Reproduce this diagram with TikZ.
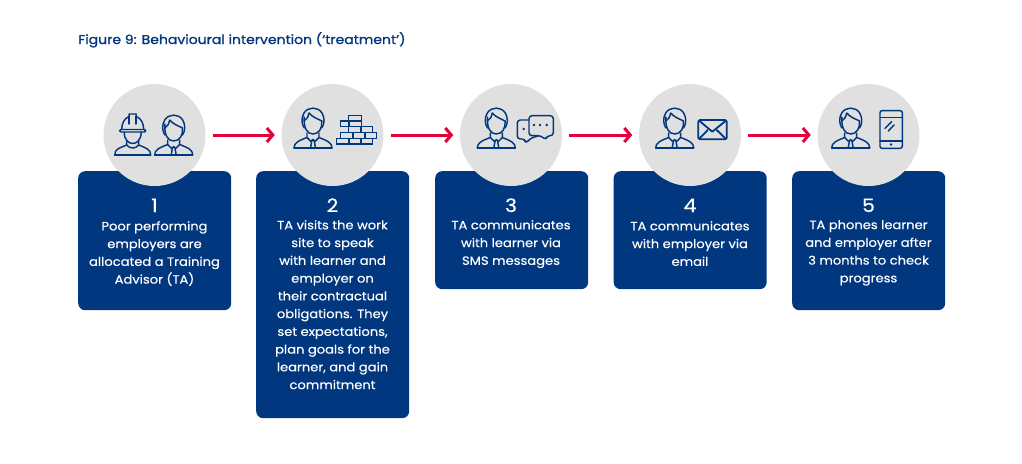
\documentclass[tikz,border=0pt]{standalone}
\usepackage{fontspec}
\setmainfont{Poppins}
\newfontfamily\bodyfont{Poppins}[FakeStretch=1.09,FakeBold=0.4]
\newfontfamily\titlefont{Poppins}[FakeStretch=1.1,FakeBold=1.2]
\usetikzlibrary{arrows.meta}
\definecolor{navy}{HTML}{00377F}
\definecolor{disc}{HTML}{E0E0E0}
\definecolor{arrowred}{HTML}{E4003A}
\tikzset{
  x=1pt,y=-1pt,
  card/.style={fill=navy,rounded corners=7pt,minimum width=153pt,anchor=north west,inner sep=0pt,text width=153pt},
  disc/.style={circle,fill=disc,minimum size=102pt,inner sep=0pt},
  flow/.style={draw=arrowred,line width=3pt,shorten <=7pt,shorten >=6.5pt,-{Straight Barb[length=6pt,width=14pt,line width=3pt]}},
  numeral/.style={text=white,font=\bodyfont\fontsize{18.5}{20}\selectfont,anchor=base},
  body/.style={text=white,font=\bodyfont\fontsize{12}{17.75}\selectfont,align=center,anchor=north,inner sep=0pt},
  ink/.style={draw=navy,line width=1.45pt,line join=round,line cap=round,fill=none},
  person/.pic={
    \draw[ink] (-19,0)--(19,0);
    \draw[ink] (-19,0) .. controls (-19,-5) and (-15,-7) .. (-6,-10.5) -- (-6,-15);
    \draw[ink] (19,0) .. controls (19,-5) and (15,-7) .. (6,-10.5) -- (6,-15);
    \draw[ink] (-8.8,-20) .. controls (-11.5,-24) and (-12,-30) .. (-9,-35) .. controls (-5,-41.5) and (5,-41.5) .. (9,-35) .. controls (12,-30) and (11.5,-24) .. (8.8,-20);
    \draw[ink] (-8.8,-31) .. controls (-9.5,-20) and (-6,-14) .. (0,-14) .. controls (6,-14) and (9.5,-20) .. (8.8,-27);
    \draw[ink] (-8.8,-27) .. controls (-6,-29) and (-4,-32) .. (-4,-35) .. controls (-1,-31) and (5,-29) .. (8.8,-27);
    \draw[ink] (-6,-10.5)--(-2,-6.5)--(0,-8.5)--(2,-6.5)--(6,-10.5);
    \draw[ink] (-1.2,-7.5)--(-2.5,0) (1.2,-7.5)--(2.5,0);
  },
  worker/.pic={
    \draw[ink] (-18,0)--(18,0);
    \draw[ink] (-18,0) .. controls (-18,-6) and (-13,-7) .. (-6,-10) -- (-6,-14);
    \draw[ink] (18,0) .. controls (18,-6) and (13,-7) .. (6,-10) -- (6,-14);
    \draw[ink] (-6,-10) .. controls (-3,-6) and (3,-6) .. (6,-10);
    \draw[ink] (-8.5,-23) .. controls (-8.5,-15) and (-4,-11.5) .. (0,-11.5) .. controls (4,-11.5) and (8.5,-15) .. (8.5,-23);
    \draw[ink,rounded corners=1.2pt] (-13,-23)--(13,-23)--(13,-25.5)--(-13,-25.5)--cycle;
    \draw[ink] (-11,-25.5) .. controls (-11,-32) and (-8,-37) .. (-3.5,-38.5) -- (-3.5,-41) -- (3.5,-41) -- (3.5,-38.5) .. controls (8,-37) and (11,-32) .. (11,-25.5);
    \draw[ink] (-3.5,-38.5)--(-3.5,-31) (3.5,-38.5)--(3.5,-31);
  },
}
\begin{document}
\begin{tikzpicture}
\useasboundingbox (0,0) rectangle (1022,463);
\node[text=navy,font=\titlefont\fontsize{12.75}{14}\selectfont,anchor=base west,inner sep=0pt] (title) at (78,44) {Figure 9: Behavioural intervention (‘treatment’)};

\node[card,minimum height=139pt] (b1) at (78,171) {};
\node[card,minimum height=247pt] (b2) at (256,171) {};
\node[card,minimum height=118pt] (b3) at (435,171) {};
\node[card,minimum height=118pt] (b4) at (613.5,171) {};
\node[card,minimum height=139pt] (b5) at (792,171) {};

\node[disc] (c1) at (154.5,135) {};
\node[disc] (c2) at (332.5,135) {};
\node[disc] (c3) at (511,135) {};
\node[disc] (c4) at (690,135) {};
\node[disc] (c5) at (868.5,135) {};

\draw[flow] (c1)--(c2);
\draw[flow] (c2)--(c3);
\draw[flow] (c3)--(c4);
\draw[flow] (c4)--(c5);

\node[numeral] (n1) at (154.5,212) {1};
\node[numeral] (n2) at (332.5,212) {2};
\node[numeral] (n3) at (511,212) {3};
\node[numeral] (n4) at (690,212) {4};
\node[numeral] (n5) at (868.5,212) {5};

\node[body] (t1) at (154.5,221) {Poor performing\\employers are\\allocated a Training\\Advisor (TA)};
\node[body] (t2) at (332.5,220) {TA visits the work\\site to speak\\with learner and\\employer on\\their contractual\\obligations. They\\set expectations,\\plan goals for the\\learner, and gain\\commitment};
\node[body] (t3) at (511,220) {TA communicates\\with learner via\\SMS messages};
\node[body] (t4) at (690,221) {TA communicates\\with employer via\\email};
\node[body] (t5) at (868.5,220) {TA phones learner\\and employer after\\3 months to check\\progress};

\pic at (132.7,155) {worker};
\pic at (173.7,155) {person};
\pic at (313,148) {person};
\pic at (496.3,148) {person};
\pic at (674.7,148) {person};
\pic at (850.7,148) {person};

% bricks
\foreach \xa/\ya/\xb/\yb in {
  348.7/115.7/361.3/121, 340.7/121/349/126.7, 349/121/361.3/126.7,
  348.7/126.7/361/132.3, 361/126.7/372.7/132.3,
  340.7/132.3/353/138.3, 353/132.3/365/138.3, 365/132.3/376.7/138.3,
  336.7/138.3/349/144, 349/138.3/361/144, 361/138.3/372.7/144}
  \draw[ink,line cap=butt,line join=miter] (\xa,\ya) rectangle (\xb,\yb);

% chat
\draw[ink,rounded corners=3pt] (529,128) -- (529,115.7) -- (553.3,115.7) -- (553.3,135.7) -- (547,135.7) -- (545.7,140) -- (541,135.7) -- (529,135.7) -- cycle;
\draw[ink,rounded corners=3pt] (529,120) -- (517.3,120) -- (517.3,139) -- (525,139) -- (525.5,143.5) -- (531,138) -- (538,136);
\fill[navy] (523.7,129) circle (1.3) (534,125) circle (1.3) (540,125) circle (1.3) (546.7,125) circle (1.3);

% envelope
\draw[ink,line width=1.8pt,rounded corners=1.5pt] (698.3,120) rectangle (726.7,139.3);
\draw[ink,line width=1.8pt] (699.5,121) -- (712.3,131.7) -- (725.5,121);
\draw[ink,line width=1.8pt] (700,138) -- (707.7,130) (725,138) -- (716.7,130);

% phone
\draw[ink,rounded corners=2pt] (880,110.7) rectangle (902.3,148.3);
\draw[ink] (880,117.3)--(902.3,117.3) (880,141)--(902.3,141);
\fill[navy] (891,144.5) circle (1.3);
\draw[ink] (885,128.3)--(891.7,121.7) (888.3,131)--(894,125);
\end{tikzpicture}
\end{document}
